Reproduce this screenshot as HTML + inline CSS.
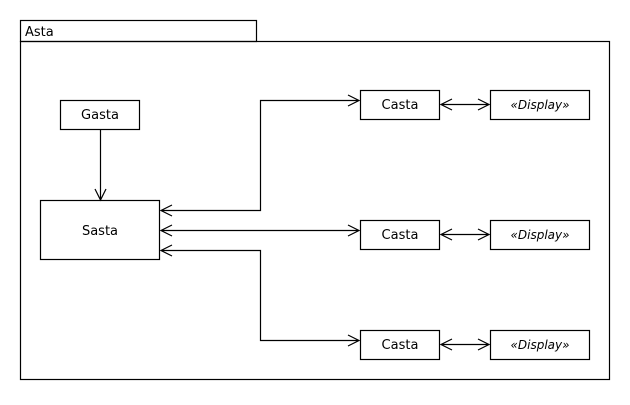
<!DOCTYPE html>
<html><head><style>body{margin:0;background:#fff}</style></head><body>
<svg width="630" height="400" xmlns="http://www.w3.org/2000/svg" font-family="'DejaVu Sans','Liberation Sans',sans-serif" font-size="13">
<g fill="none" stroke="#000" stroke-width="1.2">
<rect x="20.5" y="20.5" width="236" height="21"/>
<rect x="20.5" y="41.5" width="589" height="338"/>
<rect x="60.5" y="100.5" width="79" height="29"/>
<rect x="40.5" y="200.5" width="119" height="59"/>
<rect x="360.5" y="90.5" width="79" height="29"/>
<rect x="360.5" y="220.5" width="79" height="29"/>
<rect x="360.5" y="330.5" width="79" height="29"/>
<rect x="490.5" y="90.5" width="99" height="29"/>
<rect x="490.5" y="220.5" width="99" height="29"/>
<rect x="490.5" y="330.5" width="99" height="29"/>
<path d="M100.5 130V200M95 189l5.5 11 5.5-11"/>
<path d="M161 210.5H260.5V100.5H359M172 205l-11 5.5 11 5.5M348 95l11 5.5-11 5.5"/>
<path d="M161 230.5H359M172 225l-11 5.5 11 5.5M348 225l11 5.5-11 5.5"/>
<path d="M161 250.5H260.5V340.5H359M172 245l-11 5.5 11 5.5M348 335l11 5.5-11 5.5"/>
<path d="M441 104.5H489M452 99l-11 5.5 11 5.5M478 99l11 5.5-11 5.5"/>
<path d="M441 234.5H489M452 229l-11 5.5 11 5.5M478 229l11 5.5-11 5.5"/>
<path d="M441 344.5H489M452 339l-11 5.5 11 5.5M478 339l11 5.5-11 5.5"/>
</g>
<g fill="#000">
<text x="25" y="36">Asta</text>
<text x="100" y="119" text-anchor="middle">Gasta</text>
<text x="100" y="235" text-anchor="middle">Sasta</text>
<text x="400" y="109" text-anchor="middle">Casta</text>
<text x="400" y="239" text-anchor="middle">Casta</text>
<text x="400" y="349" text-anchor="middle">Casta</text>
<g font-style="italic" text-anchor="middle" font-size="12">
<text x="540" y="109">«Display»</text>
<text x="540" y="239">«Display»</text>
<text x="540" y="349">«Display»</text>
</g>
</g>
</svg>
</body></html>
